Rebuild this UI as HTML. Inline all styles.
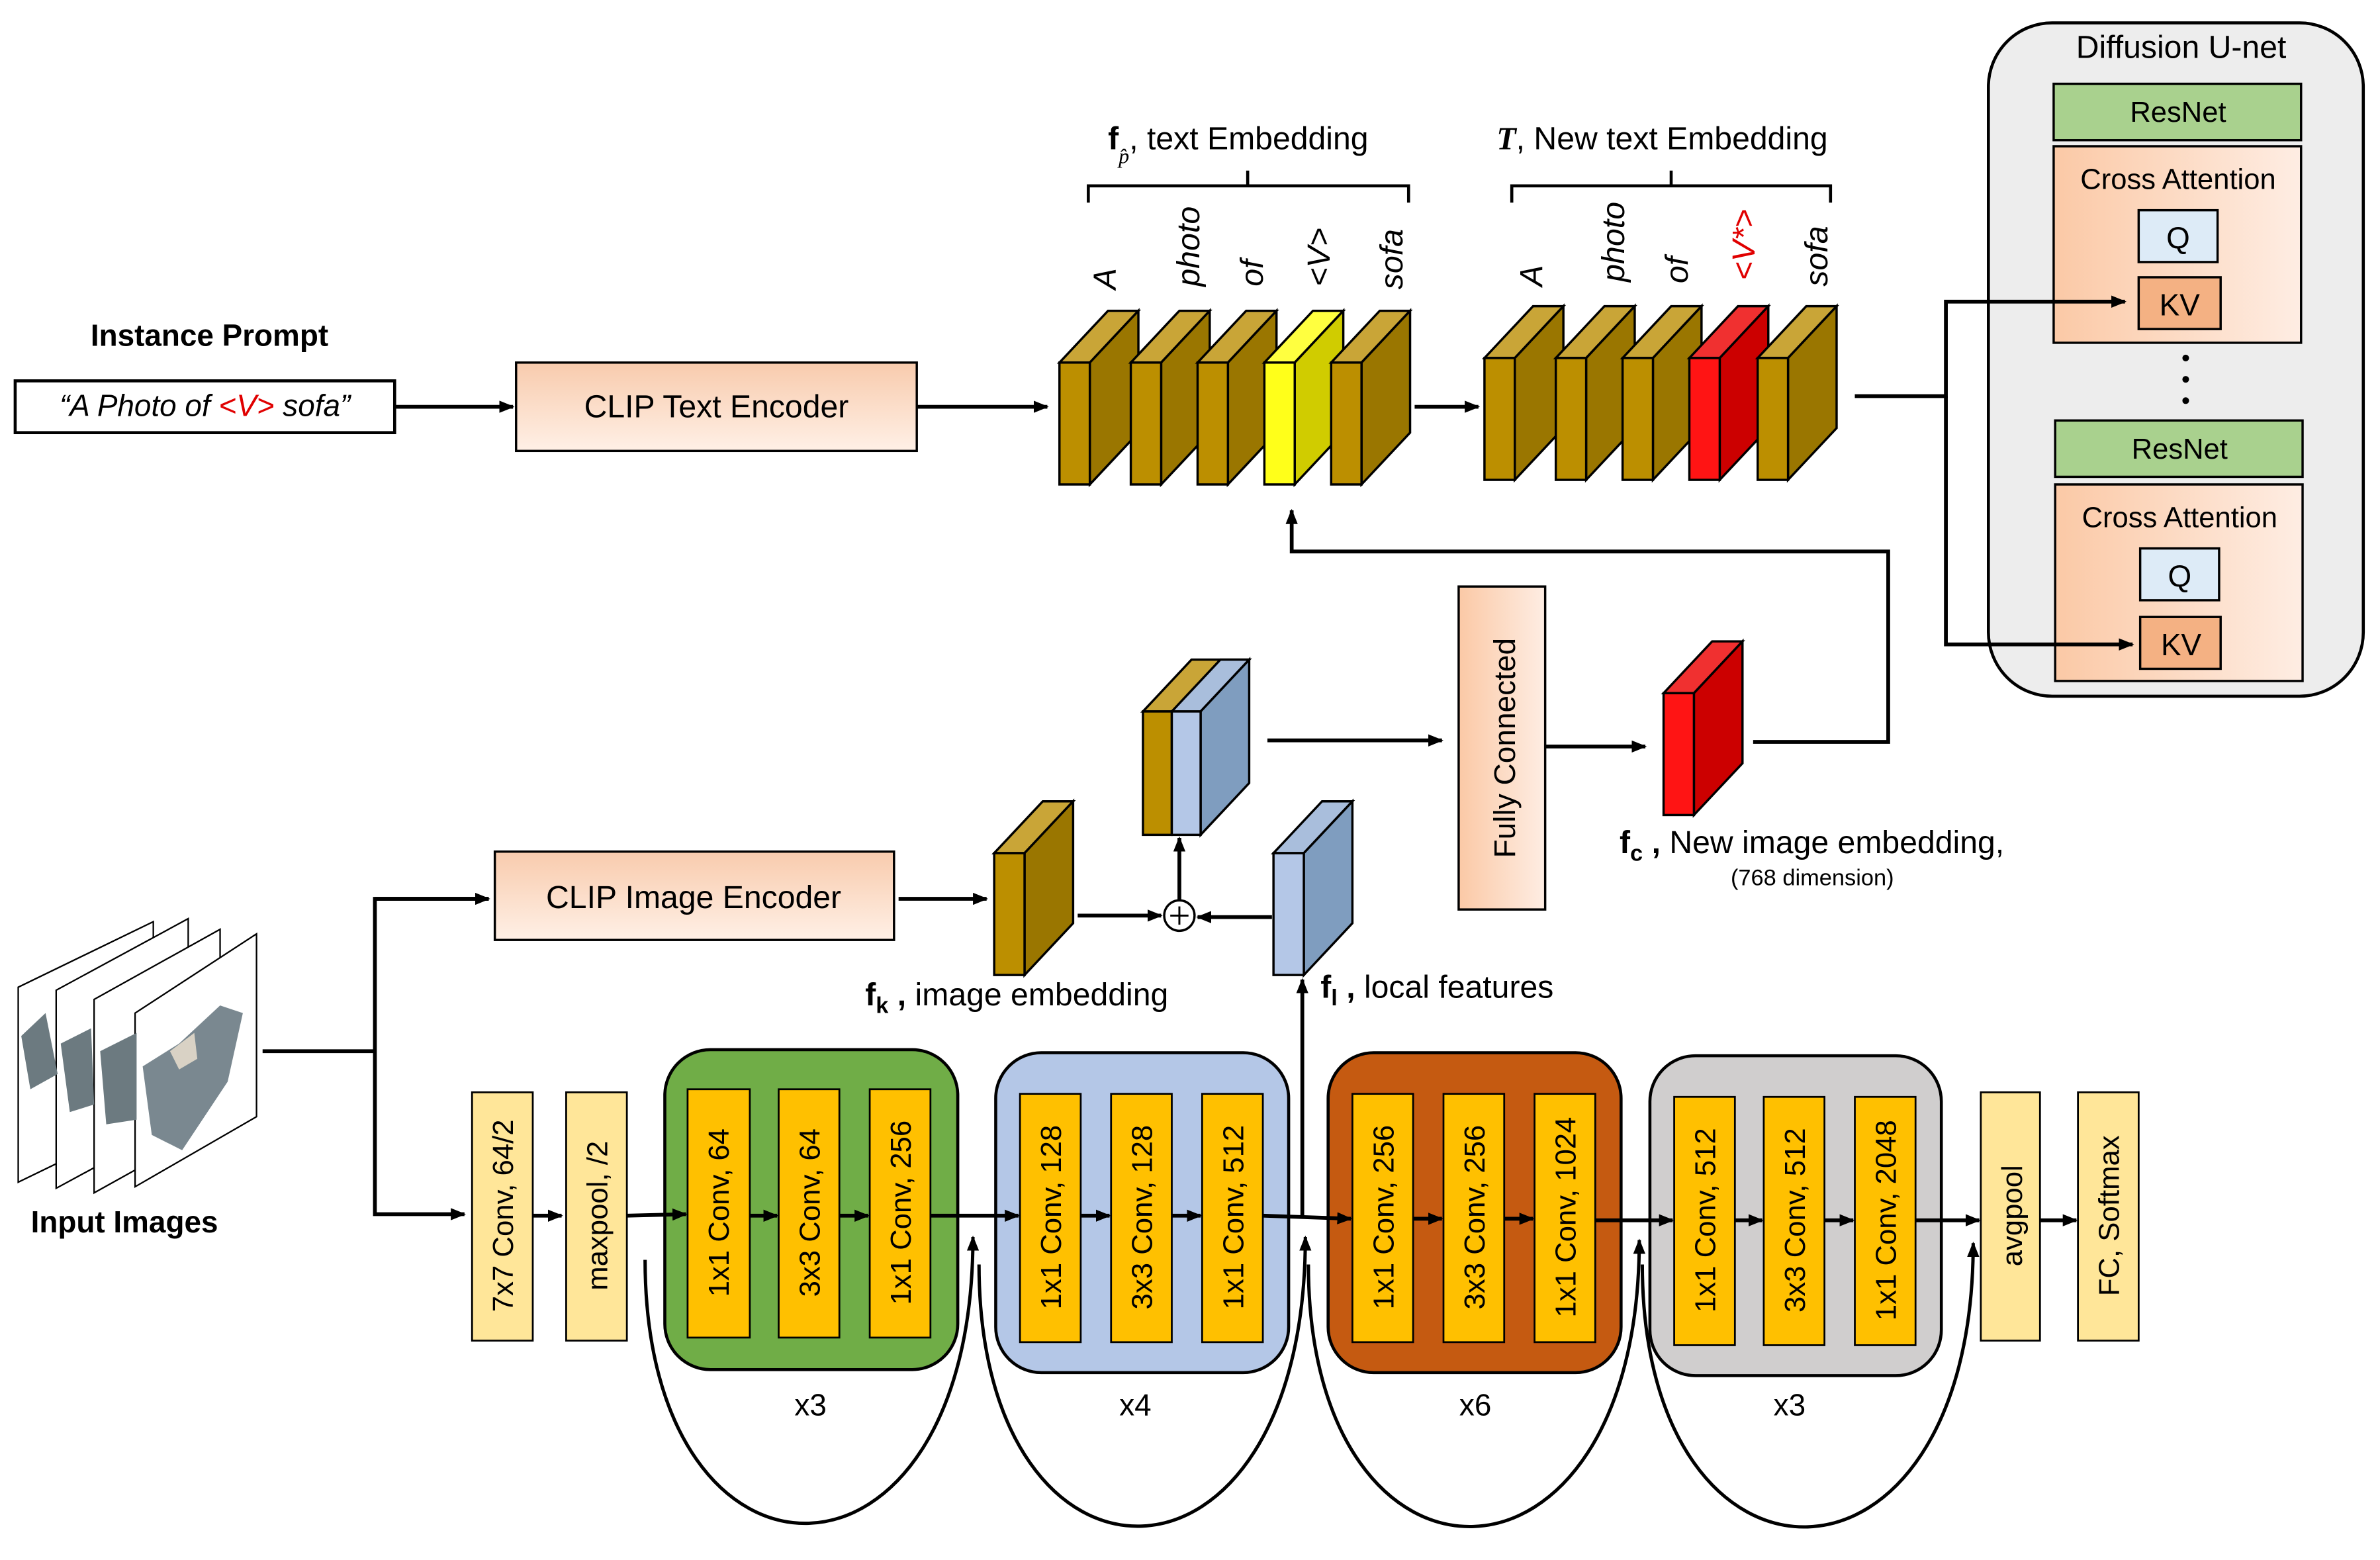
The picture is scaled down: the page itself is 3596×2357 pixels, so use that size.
<!DOCTYPE html>
<html><head><meta charset="utf-8"><style>
html,body{margin:0;padding:0;background:#fff;}
svg{display:block;}
text{font-family:"Liberation Sans","DejaVu Sans",sans-serif;}
</style></head><body>
<svg width="3596" height="2357" viewBox="0 0 1568 1024" preserveAspectRatio="none" xmlns="http://www.w3.org/2000/svg">
<defs>
<marker id="ah" markerWidth="10" markerHeight="8" refX="9" refY="4" orient="auto" markerUnits="userSpaceOnUse"><path d="M0,0 L10,4 L0,8 z" fill="#000"/></marker>
<linearGradient id="peach" x1="0" y1="0" x2="0" y2="1"><stop offset="0" stop-color="#F8CBAD"/><stop offset="1" stop-color="#FFF0E6"/></linearGradient>
<linearGradient id="peachH" x1="0" y1="0" x2="1" y2="0"><stop offset="0" stop-color="#FBC9A6"/><stop offset="1" stop-color="#FEEDE3"/></linearGradient>
<g id="gc">
<polygon points="0,0 32,-34 52,-34 20,0" fill="#C9A537" stroke="#000" stroke-width="1.5"/>
<polygon points="20,0 52,-34 52,46 20,80" fill="#9A7600" stroke="#000" stroke-width="1.5"/>
<rect x="0" y="0" width="20" height="80" fill="#BC8F00" stroke="#000" stroke-width="1.5"/>
</g>
<g id="rc">
<polygon points="0,0 32,-34 52,-34 20,0" fill="#F03030" stroke="#000" stroke-width="1.5"/>
<polygon points="20,0 52,-34 52,46 20,80" fill="#CC0000" stroke="#000" stroke-width="1.5"/>
<rect x="0" y="0" width="20" height="80" fill="#FF1414" stroke="#000" stroke-width="1.5"/>
</g>
<g id="bc">
<polygon points="0,0 32,-34 52,-34 20,0" fill="#A9BEDC" stroke="#000" stroke-width="1.5"/>
<polygon points="20,0 52,-34 52,46 20,80" fill="#7F9DBF" stroke="#000" stroke-width="1.5"/>
<rect x="0" y="0" width="20" height="80" fill="#B4C7E7" stroke="#000" stroke-width="1.5"/>
</g>
</defs>

<text x="138" y="227" font-size="20" font-weight="bold" text-anchor="middle">Instance Prompt</text>
<rect x="10" y="250" width="250" height="34" fill="#fff" stroke="#000" stroke-width="2"/>
<text x="135" y="273" font-size="20" font-style="italic" text-anchor="middle">“A Photo of <tspan fill="#E00000">&lt;V&gt;</tspan> sofa”</text>
<line x1="260" y1="267" x2="338" y2="267" stroke="#000" stroke-width="2.5" marker-end="url(#ah)"/>
<rect x="340" y="238" width="264" height="58" fill="url(#peach)" stroke="#000" stroke-width="1.5"/>
<text x="472" y="274" font-size="21" text-anchor="middle">CLIP Text Encoder</text>
<line x1="604" y1="267" x2="690" y2="267" stroke="#000" stroke-width="2.5" marker-end="url(#ah)"/>

<use href="#gc" transform="translate(698,238)"/>
<use href="#gc" transform="translate(745,238)"/>
<use href="#gc" transform="translate(789,238)"/>
<g transform="translate(833,238)">
<polygon points="0,0 32,-34 52,-34 20,0" fill="#FFFF40" stroke="#000" stroke-width="1.5"/>
<polygon points="20,0 52,-34 52,46 20,80" fill="#D0CC00" stroke="#000" stroke-width="1.5"/>
<rect x="0" y="0" width="20" height="80" fill="#FFFF1A" stroke="#000" stroke-width="1.5"/>
</g>
<use href="#gc" transform="translate(877,238)"/>
<path d="M717,133 V122 H822 V112 M822,122 H928 V133" fill="none" stroke="#000" stroke-width="2"/>
<text x="730" y="98" font-size="21"><tspan font-weight="bold">f</tspan><tspan font-size="14" font-style="italic" font-family="Liberation Serif" dy="9">p̂</tspan><tspan dy="-9">, text Embedding</tspan></text>
<g font-size="21" font-style="italic">
<text transform="translate(735,190) rotate(-90)">A</text>
<text transform="translate(790,188) rotate(-90)">photo</text>
<text transform="translate(832,188) rotate(-90)">of</text>
<text transform="translate(876,188) rotate(-90)">&lt;V&gt;</text>
<text transform="translate(924,190) rotate(-90)">sofa</text>
</g>
<line x1="932" y1="267" x2="974" y2="267" stroke="#000" stroke-width="2.5" marker-end="url(#ah)"/>

<use href="#gc" transform="translate(978,235)"/>
<use href="#gc" transform="translate(1025,235)"/>
<use href="#gc" transform="translate(1069,235)"/>
<use href="#rc" transform="translate(1113,235)"/>
<use href="#gc" transform="translate(1158,235)"/>
<path d="M996,133 V122 H1101 V112 M1101,122 H1206 V133" fill="none" stroke="#000" stroke-width="2"/>
<text x="986" y="98" font-size="21"><tspan font-weight="bold" font-style="italic" font-family="Liberation Serif">T</tspan>, New text Embedding</text>
<g font-size="21" font-style="italic">
<text transform="translate(1016,188) rotate(-90)">A</text>
<text transform="translate(1070,185) rotate(-90)">photo</text>
<text transform="translate(1112,186) rotate(-90)">of</text>
<text transform="translate(1156,184) rotate(-90)" fill="#E00000">&lt;V*&gt;</text>
<text transform="translate(1204,188) rotate(-90)">sofa</text>
</g>

<rect x="1310" y="15" width="247" height="442" rx="42" fill="#EDEDED" stroke="#000" stroke-width="2"/>
<text x="1437" y="38" font-size="21" text-anchor="middle">Diffusion U-net</text>
<rect x="1353" y="55" width="163" height="37" fill="#A9D18E" stroke="#000" stroke-width="1.5"/>
<text x="1435" y="80" font-size="19" text-anchor="middle">ResNet</text>
<rect x="1353" y="96" width="163" height="129" fill="url(#peachH)" stroke="#000" stroke-width="1.5"/>
<text x="1435" y="124" font-size="19" text-anchor="middle">Cross Attention</text>
<rect x="1409" y="138" width="52" height="34" fill="#DDEBF7" stroke="#000" stroke-width="1.5"/>
<text x="1435" y="163" font-size="20" text-anchor="middle">Q</text>
<rect x="1409" y="182" width="54" height="34" fill="#F4B183" stroke="#000" stroke-width="1.5"/>
<text x="1436" y="207" font-size="20" text-anchor="middle">KV</text>
<circle cx="1440" cy="235" r="2.2"/><circle cx="1440" cy="249" r="2.2"/><circle cx="1440" cy="263" r="2.2"/>
<rect x="1354" y="276" width="163" height="37" fill="#A9D18E" stroke="#000" stroke-width="1.5"/>
<text x="1436" y="301" font-size="19" text-anchor="middle">ResNet</text>
<rect x="1354" y="318" width="163" height="129" fill="url(#peachH)" stroke="#000" stroke-width="1.5"/>
<text x="1436" y="346" font-size="19" text-anchor="middle">Cross Attention</text>
<rect x="1410" y="360" width="52" height="34" fill="#DDEBF7" stroke="#000" stroke-width="1.5"/>
<text x="1436" y="385" font-size="20" text-anchor="middle">Q</text>
<rect x="1410" y="405" width="53" height="34" fill="#F4B183" stroke="#000" stroke-width="1.5"/>
<text x="1437" y="430" font-size="20" text-anchor="middle">KV</text>
<path d="M1222,260 H1282 V198 H1400" fill="none" stroke="#000" stroke-width="2.5" marker-end="url(#ah)"/>
<path d="M1282,260 V423 H1405" fill="none" stroke="#000" stroke-width="2.5" marker-end="url(#ah)"/>

<rect x="961" y="385" width="57" height="212" fill="url(#peachH)" stroke="#000" stroke-width="1.5"/>
<text transform="translate(998,491) rotate(-90)" font-size="20" text-anchor="middle">Fully Connected</text>
<line x1="835" y1="486" x2="950" y2="486" stroke="#000" stroke-width="2.5" marker-end="url(#ah)"/>
<line x1="1018" y1="490" x2="1084" y2="490" stroke="#000" stroke-width="2.5" marker-end="url(#ah)"/>
<use href="#rc" transform="translate(1096,455)"/>
<path d="M1155,487 H1244 V362 H851 V335" fill="none" stroke="#000" stroke-width="2.5" marker-end="url(#ah)"/>
<text x="1067" y="560" font-size="21"><tspan font-weight="bold">f</tspan><tspan font-weight="bold" font-size="15" dy="5">c</tspan><tspan dy="-5" font-weight="bold"> , </tspan>New image embedding,</text>
<text x="1194" y="581" font-size="15" text-anchor="middle">(768 dimension)</text>

<g transform="translate(753,467)">
<polygon points="0,0 32,-34 70,-34 38,0" fill="#C9A537" stroke="#000" stroke-width="1.5"/>
<polygon points="19,0 51,-34 70,-34 38,0" fill="#A9BEDC" stroke="#000" stroke-width="1.5"/>
<polygon points="38,0 70,-34 70,47 38,81" fill="#7F9DBF" stroke="#000" stroke-width="1.5"/>
<rect x="0" y="0" width="19" height="81" fill="#BC8F00" stroke="#000" stroke-width="1.5"/>
<rect x="19" y="0" width="19" height="81" fill="#B4C7E7" stroke="#000" stroke-width="1.5"/>
</g>

<rect x="326" y="559" width="263" height="58" fill="url(#peach)" stroke="#000" stroke-width="1.5"/>
<text x="457" y="596" font-size="21" text-anchor="middle">CLIP Image Encoder</text>
<line x1="592" y1="590" x2="650" y2="590" stroke="#000" stroke-width="2.5" marker-end="url(#ah)"/>
<use href="#gc" transform="translate(655,560)"/>
<use href="#bc" transform="translate(839,560)"/>
<line x1="710" y1="601" x2="765" y2="601" stroke="#000" stroke-width="2.5" marker-end="url(#ah)"/>
<line x1="838" y1="602" x2="789" y2="602" stroke="#000" stroke-width="2.5" marker-end="url(#ah)"/>
<circle cx="777" cy="601" r="10" fill="#fff" stroke="#000" stroke-width="1.5"/>
<path d="M771,601 H783 M777,595 V607" stroke="#000" stroke-width="1.3"/>
<line x1="777" y1="591" x2="777" y2="550" stroke="#000" stroke-width="2.5" marker-end="url(#ah)"/>
<text x="570" y="660" font-size="21"><tspan font-weight="bold">f</tspan><tspan font-weight="bold" font-size="15" dy="5">k</tspan><tspan dy="-5" font-weight="bold"> , </tspan>image embedding</text>
<text x="870" y="655" font-size="21"><tspan font-weight="bold">f</tspan><tspan font-weight="bold" font-size="15" dy="5">l</tspan><tspan dy="-5" font-weight="bold"> , </tspan>local features</text>
<line x1="858" y1="798" x2="858" y2="643" stroke="#000" stroke-width="2.5" marker-end="url(#ah)"/>

<g stroke="#000" stroke-width="1">
<polygon points="12,648 101,605 101,733 12,776" fill="#fff"/>
<polygon points="37,650 124,603 124,733 37,780" fill="#fff"/>
<polygon points="62,656 145,610 145,737 62,783" fill="#fff"/>
<polygon points="89,665 169,613 169,733 89,779" fill="#fff"/>
</g>
<path d="M14,680 L30,665 L38,705 L20,715 Z" fill="#6C7A80"/>
<path d="M40,685 L60,675 L62,725 L46,730 Z" fill="#6C7A80"/>
<path d="M66,690 L90,678 L90,735 L70,738 Z" fill="#6C7A80"/>
<path d="M94,700 L118,685 L145,660 L160,665 L150,710 L120,755 L100,745 Z" fill="#7A8890"/>
<path d="M112,690 L128,678 L130,695 L118,702 Z" fill="#D9D2C5"/>
<line x1="173" y1="690" x2="247" y2="690" stroke="#000" stroke-width="2.5"/>
<path d="M322,590 H247 V797 H306" fill="none" stroke="#000" stroke-width="2.5" marker-end="url(#ah)"/>
<line x1="247" y1="590" x2="322" y2="590" stroke="#000" stroke-width="2.5" marker-end="url(#ah)"/>
<text x="82" y="809" font-size="20" font-weight="bold" text-anchor="middle">Input Images</text>

<rect x="438" y="689" width="193" height="210" rx="30" fill="#70AD47" stroke="#000" stroke-width="2"/>
<rect x="656" y="691" width="193" height="210" rx="30" fill="#B4C7E7" stroke="#000" stroke-width="2"/>
<rect x="875" y="691" width="193" height="210" rx="30" fill="#C55A11" stroke="#000" stroke-width="2"/>
<rect x="1087" y="693" width="192" height="210" rx="30" fill="#D0CECE" stroke="#000" stroke-width="2"/>
<line x1="351" y1="798" x2="370" y2="798" stroke="#000" stroke-width="2.5" marker-end="url(#ah)"/>
<line x1="413" y1="798" x2="452" y2="797" stroke="#000" stroke-width="2.5" marker-end="url(#ah)"/>
<line x1="494" y1="798" x2="512" y2="798" stroke="#000" stroke-width="2.5" marker-end="url(#ah)"/>
<line x1="553" y1="798" x2="572" y2="798" stroke="#000" stroke-width="2.5" marker-end="url(#ah)"/>
<line x1="613" y1="798" x2="671" y2="798" stroke="#000" stroke-width="2.5" marker-end="url(#ah)"/>
<line x1="712" y1="798" x2="731" y2="798" stroke="#000" stroke-width="2.5" marker-end="url(#ah)"/>
<line x1="772" y1="798" x2="791" y2="798" stroke="#000" stroke-width="2.5" marker-end="url(#ah)"/>
<line x1="832" y1="798" x2="890" y2="800" stroke="#000" stroke-width="2.5" marker-end="url(#ah)"/>
<line x1="931" y1="800" x2="950" y2="800" stroke="#000" stroke-width="2.5" marker-end="url(#ah)"/>
<line x1="991" y1="800" x2="1010" y2="800" stroke="#000" stroke-width="2.5" marker-end="url(#ah)"/>
<line x1="1051" y1="801" x2="1102" y2="801" stroke="#000" stroke-width="2.5" marker-end="url(#ah)"/>
<line x1="1143" y1="801" x2="1161" y2="801" stroke="#000" stroke-width="2.5" marker-end="url(#ah)"/>
<line x1="1202" y1="801" x2="1221" y2="801" stroke="#000" stroke-width="2.5" marker-end="url(#ah)"/>
<line x1="1262" y1="801" x2="1304" y2="801" stroke="#000" stroke-width="2.5" marker-end="url(#ah)"/>
<line x1="1344" y1="801" x2="1368" y2="801" stroke="#000" stroke-width="2.5" marker-end="url(#ah)"/>
<g stroke="#000" stroke-width="1.2">
<rect x="311" y="717" width="40" height="163" fill="#FFE699"/>
<rect x="373" y="717" width="40" height="163" fill="#FFE699"/>
<rect x="1305" y="717" width="39" height="163" fill="#FFE699"/>
<rect x="1369" y="717" width="40" height="163" fill="#FFE699"/>
<rect x="453" y="715" width="41" height="163" fill="#FFC000"/>
<rect x="513" y="715" width="40" height="163" fill="#FFC000"/>
<rect x="573" y="715" width="40" height="163" fill="#FFC000"/>
<rect x="672" y="718" width="40" height="163" fill="#FFC000"/>
<rect x="732" y="718" width="40" height="163" fill="#FFC000"/>
<rect x="792" y="718" width="40" height="163" fill="#FFC000"/>
<rect x="891" y="718" width="40" height="163" fill="#FFC000"/>
<rect x="951" y="718" width="40" height="163" fill="#FFC000"/>
<rect x="1011" y="718" width="40" height="163" fill="#FFC000"/>
<rect x="1103" y="720" width="40" height="163" fill="#FFC000"/>
<rect x="1162" y="720" width="40" height="163" fill="#FFC000"/>
<rect x="1222" y="720" width="40" height="163" fill="#FFC000"/>
</g>
<g font-size="19" text-anchor="middle">
<text transform="translate(338,798) rotate(-90)">7x7 Conv, 64/2</text>
<text transform="translate(400,798) rotate(-90)">maxpool, /2</text>
<text transform="translate(1332,798) rotate(-90)">avgpool</text>
<text transform="translate(1396,798) rotate(-90)">FC, Softmax</text>
<text transform="translate(480,796) rotate(-90)">1x1 Conv, 64</text>
<text transform="translate(540,796) rotate(-90)">3x3 Conv, 64</text>
<text transform="translate(600,796) rotate(-90)">1x1 Conv, 256</text>
<text transform="translate(699,799) rotate(-90)">1x1 Conv, 128</text>
<text transform="translate(759,799) rotate(-90)">3x3 Conv, 128</text>
<text transform="translate(819,799) rotate(-90)">1x1 Conv, 512</text>
<text transform="translate(918,799) rotate(-90)">1x1 Conv, 256</text>
<text transform="translate(978,799) rotate(-90)">3x3 Conv, 256</text>
<text transform="translate(1038,799) rotate(-90)">1x1 Conv, 1024</text>
<text transform="translate(1130,801) rotate(-90)">1x1 Conv, 512</text>
<text transform="translate(1189,801) rotate(-90)">3x3 Conv, 512</text>
<text transform="translate(1249,801) rotate(-90)">1x1 Conv, 2048</text>
</g>
<g font-size="20" text-anchor="middle">
<text x="534" y="929">x3</text>
<text x="748" y="929">x4</text>
<text x="972" y="929">x6</text>
<text x="1179" y="929">x3</text>
</g>
<g fill="none" stroke="#000" stroke-width="2.2">
<path d="M425,827 C425,1060 641,1060 641,812" marker-end="url(#ah)"/>
<path d="M645,830 C645,1062 860,1062 860,812" marker-end="url(#ah)"/>
<path d="M862,830 C862,1062 1080,1062 1080,814" marker-end="url(#ah)"/>
<path d="M1082,830 C1082,1062 1300,1062 1300,816" marker-end="url(#ah)"/>
</g>
</svg>
</body></html>
